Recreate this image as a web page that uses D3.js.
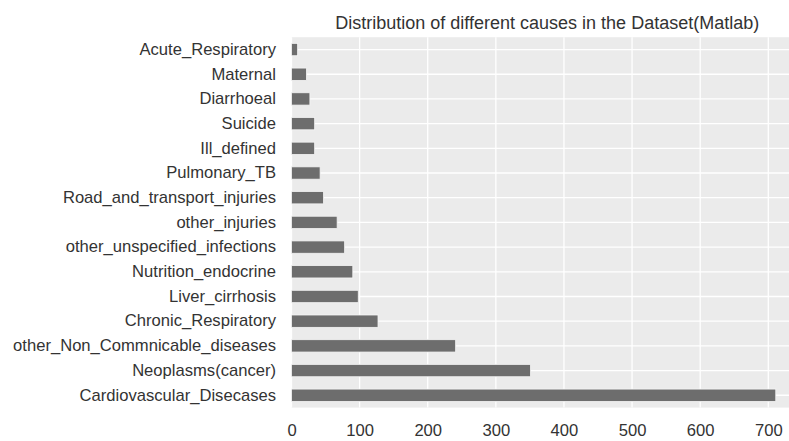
<!DOCTYPE html>
<html>
<head>
<meta charset="utf-8">
<script src="https://cdn.jsdelivr.net/npm/d3@7"></script>
<style>
  body { margin: 0; background: #fff; }
  svg { display: block; font-family: "Liberation Sans", Arial, sans-serif; }
</style>
</head>
<body>
<div id="chart"></div>
<script>
var title = 'Distribution of different causes in the Dataset(Matlab)';

// top to bottom, as drawn
var causes = ['Acute_Respiratory', 'Maternal', 'Diarrhoeal', 'Suicide', 'Ill_defined',
              'Pulmonary_TB', 'Road_and_transport_injuries', 'other_injuries',
              'other_unspecified_infections', 'Nutrition_endocrine', 'Liver_cirrhosis',
              'Chronic_Respiratory', 'other_Non_Commnicable_diseases', 'Neoplasms(cancer)',
              'Cardiovascular_Disecases'];
var counts = [9, 22, 27, 34, 34, 42, 47, 67, 78, 90, 98, 127, 241, 351, 711];
var xTicks = [0, 100, 200, 300, 400, 500, 600, 700];

var rows = causes.map((c, i) => ({cause: c, count: counts[i]}));

var plotLeft = 291.5, plotRight = 800, plotTop = 37.2, plotBottom = 407.6;

var svg = d3.select('#chart')
            .append('svg')
            .attr('width', 789)
            .attr('height', 441);

var x = d3.scaleLinear()
          .domain([0, d3.max(counts) * 1.05])
          .range([plotLeft, plotRight]);

var y = d3.scaleBand()
          .domain(causes)
          .range([plotTop, plotBottom])
          .paddingInner(0.5)
          .paddingOuter(0.25);

svg.append('rect')
   .attr('x', plotLeft)
   .attr('y', plotTop)
   .attr('width', plotRight - plotLeft)
   .attr('height', plotBottom - plotTop)
   .attr('fill', '#ebebeb');

// grid
svg.selectAll('.vgrid')
   .data(xTicks)
   .enter()
   .append('line')
   .attr('class', 'vgrid')
   .attr('x1', d => x(d))
   .attr('x2', d => x(d))
   .attr('y1', plotTop)
   .attr('y2', plotBottom)
   .attr('stroke', '#fff')
   .attr('stroke-width', 1.3);

svg.selectAll('.hgrid')
   .data(causes)
   .enter()
   .append('line')
   .attr('class', 'hgrid')
   .attr('x1', plotLeft)
   .attr('x2', plotRight)
   .attr('y1', d => y(d) + y.bandwidth() / 2)
   .attr('y2', d => y(d) + y.bandwidth() / 2)
   .attr('stroke', '#fff')
   .attr('stroke-width', 1.3);

svg.selectAll('.bar')
   .data(rows)
   .enter()
   .append('rect')
   .attr('class', 'bar')
   .attr('x', x(0))
   .attr('y', d => y(d.cause))
   .attr('width', d => x(d.count) - x(0))
   .attr('height', y.bandwidth())
   .attr('fill', '#6d6d6d')
   .attr('stroke', '#f4f4f4')
   .attr('stroke-width', 0.8);

// axes
var xAxis = svg.append('g')
   .attr('transform', `translate(0,${plotBottom})`)
   .call(d3.axisBottom(x).tickValues(xTicks).tickSize(0).tickPadding(17));
xAxis.select('.domain').remove();
xAxis.selectAll('text')
     .attr('fill', '#333')
     .style('font-size', '16.6px');

var yAxis = svg.append('g')
   .attr('transform', `translate(${plotLeft},0)`)
   .call(d3.axisLeft(y).tickSize(0).tickPadding(15.5));
yAxis.select('.domain').remove();
yAxis.selectAll('text')
     .attr('fill', '#333')
     .style('font-size', '16.6px');

svg.append('text')
   .attr('x', (plotLeft + plotRight) / 2 + 1.5)
   .attr('y', 28.5)
   .attr('text-anchor', 'middle')
   .attr('fill', '#333')
   .style('font-size', '18px')
   .text(title);
</script>
</body>
</html>
